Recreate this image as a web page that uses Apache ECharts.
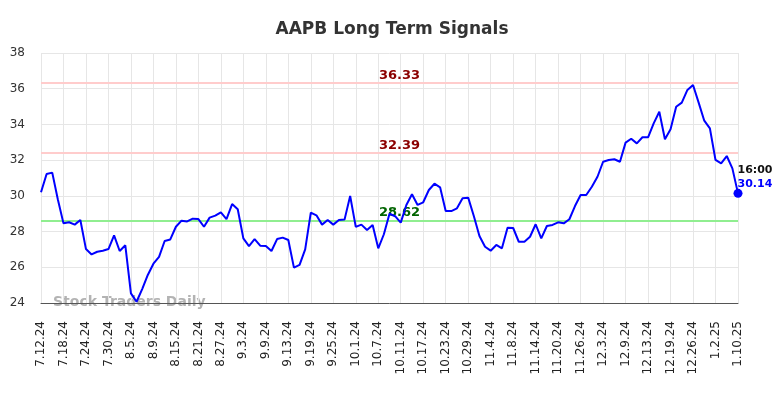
<!DOCTYPE html>
<html>
<head>
<meta charset="utf-8">
<script src="https://cdn.jsdelivr.net/npm/echarts@6/dist/echarts.min.js"></script>
<style>
  html, body { margin: 0; padding: 0; background: #fff; }
  #chart { width: 784px; height: 398px; }
</style>
</head>
<body>
<div id="chart"></div>
<script>
var dates = [
  '7.12.24','7.15.24','7.16.24','7.17.24','7.18.24','7.19.24','7.22.24','7.23.24','7.24.24','7.25.24',
  '7.26.24','7.29.24','7.30.24','7.31.24','8.1.24','8.2.24','8.5.24','8.6.24','8.7.24','8.8.24',
  '8.9.24','8.12.24','8.13.24','8.14.24','8.15.24','8.16.24','8.19.24','8.20.24','8.21.24','8.22.24',
  '8.23.24','8.26.24','8.27.24','8.28.24','8.29.24','8.30.24','9.3.24','9.4.24','9.5.24','9.6.24',
  '9.9.24','9.10.24','9.11.24','9.12.24','9.13.24','9.16.24','9.17.24','9.18.24','9.19.24','9.20.24',
  '9.23.24','9.24.24','9.25.24','9.26.24','9.27.24','9.30.24','10.1.24','10.2.24','10.3.24','10.4.24',
  '10.7.24','10.8.24','10.9.24','10.10.24','10.11.24','10.14.24','10.15.24','10.16.24','10.17.24','10.18.24',
  '10.21.24','10.22.24','10.23.24','10.24.24','10.25.24','10.28.24','10.29.24','10.30.24','10.31.24','11.1.24',
  '11.4.24','11.5.24','11.6.24','11.7.24','11.8.24','11.11.24','11.12.24','11.13.24','11.14.24','11.15.24',
  '11.18.24','11.19.24','11.20.24','11.21.24','11.22.24','11.25.24','11.26.24','11.27.24','11.29.24','12.2.24',
  '12.3.24','12.4.24','12.5.24','12.6.24','12.9.24','12.10.24','12.11.24','12.12.24','12.13.24','12.16.24',
  '12.17.24','12.18.24','12.19.24','12.20.24','12.23.24','12.24.24','12.26.24','12.27.24','12.30.24','12.31.24',
  '1.2.25','1.3.25','1.6.25','1.7.25','1.10.25'
];
var prices = [
  30.20, 31.22, 31.30, 29.80, 28.46, 28.52, 28.39, 28.65, 27.02, 26.72,
  26.87, 26.93, 27.02, 27.79, 26.91, 27.23, 24.54, 24.07, 24.78, 25.57,
  26.20, 26.58, 27.47, 27.56, 28.27, 28.61, 28.57, 28.72, 28.70, 28.27,
  28.78, 28.89, 29.08, 28.70, 29.54, 29.25, 27.62, 27.19, 27.58, 27.21,
  27.19, 26.91, 27.58, 27.66, 27.53, 25.98, 26.13, 27.00, 29.06, 28.91,
  28.39, 28.65, 28.39, 28.65, 28.67, 29.99, 28.26, 28.39, 28.09, 28.37,
  27.06, 27.85, 29.00, 28.86, 28.50, 29.49, 30.09, 29.49, 29.64, 30.33,
  30.68, 30.48, 29.15, 29.15, 29.30, 29.86, 29.90, 28.87, 27.75, 27.15,
  26.93, 27.25, 27.06, 28.22, 28.20, 27.43, 27.43, 27.71, 28.41, 27.62,
  28.31, 28.37, 28.52, 28.46, 28.69, 29.43, 30.05, 30.05, 30.51, 31.07,
  31.91, 32.01, 32.05, 31.91, 32.98, 33.20, 32.94, 33.28, 33.28, 34.06,
  34.71, 33.17, 33.73, 34.99, 35.22, 35.93, 36.21, 35.22, 34.21, 33.78,
  32.01, 31.82, 32.23, 31.54, 30.14
];
var resistanceLevels = [36.33, 32.39];
var supportLevels = [28.62];
var lastTime = '16:00';

var chart = echarts.init(document.getElementById('chart'), null, { renderer: 'canvas' });

var seriesData = prices.map(function(v, i) {
  if (i === prices.length - 1) {
    return {
      value: v,
      symbol: 'circle',
      symbolSize: 9,
      label: {
        show: true,
        position: [4, -26],
        align: 'left',
        verticalAlign: 'top',
        formatter: '{t|' + lastTime + '}\n{v|' + v.toFixed(2) + '}',
        rich: {
          t: { color: '#111', fontWeight: 'bold', fontSize: 11, fontFamily: 'DejaVu Sans', lineHeight: 14 },
          v: { color: '#0000ff', fontWeight: 'bold', fontSize: 11, fontFamily: 'DejaVu Sans', lineHeight: 14 }
        }
      }
    };
  }
  return v;
});

var markLines = resistanceLevels.map(function(v) {
  return {
    yAxis: v,
    lineStyle: { color: '#ffcccc', width: 2, type: 'solid' },
    label: { color: '#8b0000' }
  };
}).concat(supportLevels.map(function(v) {
  return {
    yAxis: v,
    lineStyle: { color: '#90ee90', width: 2, type: 'solid' },
    label: { color: '#006400' }
  };
}));

chart.setOption({
  animation: false,
  backgroundColor: '#fff',
  title: {
    text: 'AAPB Long Term Signals',
    left: 'center',
    top: 16,
    textStyle: { fontFamily: 'DejaVu Sans', fontSize: 17, fontWeight: 'bold', color: '#333' }
  },
  grid: { left: 41, right: 46, top: 53, bottom: 95 },
  graphic: [{
    type: 'text',
    left: 53,
    top: 295,
    z: 0,
    style: {
      text: 'Stock Traders Daily',
      font: 'bold 14px "DejaVu Sans"',
      fill: 'rgba(128,128,128,0.6)'
    }
  }],
  xAxis: {
    type: 'category',
    data: dates,
    boundaryGap: false,
    axisLine: { lineStyle: { color: '#555', width: 1 } },
    axisTick: { show: false },
    axisLabel: {
      rotate: 90,
      interval: 3,
      margin: 18,
      fontFamily: 'DejaVu Sans',
      fontSize: 12,
      color: '#222'
    },
    splitLine: { show: true, interval: 3, lineStyle: { color: '#e6e6e6', width: 1 } }
  },
  yAxis: {
    type: 'value',
    min: 24,
    max: 38,
    interval: 2,
    axisLine: { show: false },
    axisTick: { show: false },
    axisLabel: { fontFamily: 'DejaVu Sans', fontSize: 12, color: '#333', margin: 16 },
    splitLine: { lineStyle: { color: '#e6e6e6', width: 1 } }
  },
  series: [{
    type: 'line',
    data: seriesData,
    showSymbol: true,
    symbol: 'none',
    lineStyle: { color: '#0000ff', width: 2 },
    itemStyle: { color: '#0000ff' },
    z: 3,
    markLine: {
      silent: true,
      symbol: 'none',
      z: 2,
      label: {
        show: true,
        position: 'middle',
        offset: [10, 0],
        distance: 1,
        formatter: function(p) { return p.value.toFixed(2); },
        fontFamily: 'DejaVu Sans',
        fontSize: 13,
        fontWeight: 'bold'
      },
      data: markLines
    }
  }]
});
</script>
</body>
</html>
